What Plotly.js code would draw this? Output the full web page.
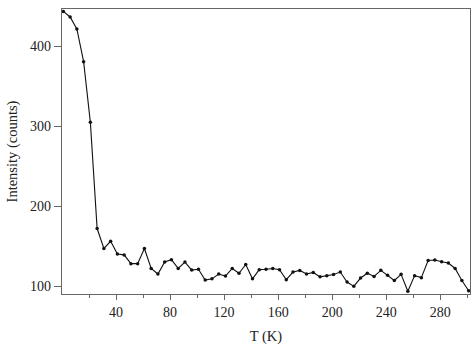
<!DOCTYPE html>
<html>
<head>
<meta charset="utf-8">
<script src="https://cdn.plot.ly/plotly-3.0.1.min.js"></script>
<style>html,body{margin:0;padding:0;background:#fff;}#chart{width:473px;height:345px;}</style>
</head>
<body>
<div id="chart"></div>
<script>
const temperatureK = [1,6,11,16,21,26,31,36,41,46,51,56,61,66,71,76,81,86,91,96,101,106,111,116,121,126,131,136,141,146,151,156,161,166,171,176,181,186,191,196,201,206,211,216,221,226,231,236,241,246,251,256,261,266,271,276,281,286,291,296,301];
const intensity = [444,437,422,381,305,172,147,156,140,139,128,128,147,122,115,130,133,122,130,120,121,107.5,109,115,112.5,122,116,127,109,120.5,121,122,120.5,108,117.5,119.5,115,117,111.5,113,114.5,117.5,105,99.6,110,116,112,119.6,113.4,107,114.6,93.4,113,110.5,132,132.5,130.5,128.75,122,107,94];
const xTickVals = [40,80,120,160,200,240,280];
const xTickText = ["40","80","120","160","200","240","280"];
const yTickVals = [100,200,300,400];
const yTickText = ["100","200","300","400"];

const axisColor = '#666666';
const fontFam = '"Liberation Serif", "DejaVu Serif", serif';

Plotly.newPlot('chart', [{
  x: temperatureK,
  y: intensity,
  type: 'scatter',
  mode: 'lines+markers',
  line: {color: '#111111', width: 1.1},
  marker: {color: '#111111', size: 3.5}
}], {
  width: 473, height: 345,
  margin: {l: 62, r: 3, t: 9, b: 51},
  paper_bgcolor: '#ffffff',
  plot_bgcolor: '#ffffff',
  showlegend: false,
  font: {family: fontFam, size: 14, color: '#222222'},
  xaxis: {
    range: [0, 302],
    showgrid: false, zeroline: false,
    showline: true, linecolor: axisColor, linewidth: 1.3, mirror: true,
    ticks: 'outside', ticklen: 5, tickcolor: axisColor, tickwidth: 1,
    tickvals: xTickVals, ticktext: xTickText,
    tickfont: {family: fontFam, size: 14, color: '#222222'},
    minor: {tickvals: [20,60,100,140,180,220,260,300], ticks: 'outside', ticklen: 3, tickcolor: axisColor, showgrid: false},
    title: {text: 'T (K)', font: {family: fontFam, size: 14.5, color: '#222222'}, standoff: 12}
  },
  yaxis: {
    range: [90, 447],
    showgrid: false, zeroline: false,
    showline: true, linecolor: axisColor, linewidth: 1.3, mirror: true,
    ticks: 'outside', ticklen: 7, tickcolor: axisColor, tickwidth: 1,
    tickvals: yTickVals, ticktext: yTickText,
    tickfont: {family: fontFam, size: 14, color: '#222222'},
    title: {text: 'Intensity (counts)', font: {family: fontFam, size: 14.5, color: '#222222'}, standoff: 8}
  }
}, {displayModeBar: false, staticPlot: true});
</script>
</body>
</html>
